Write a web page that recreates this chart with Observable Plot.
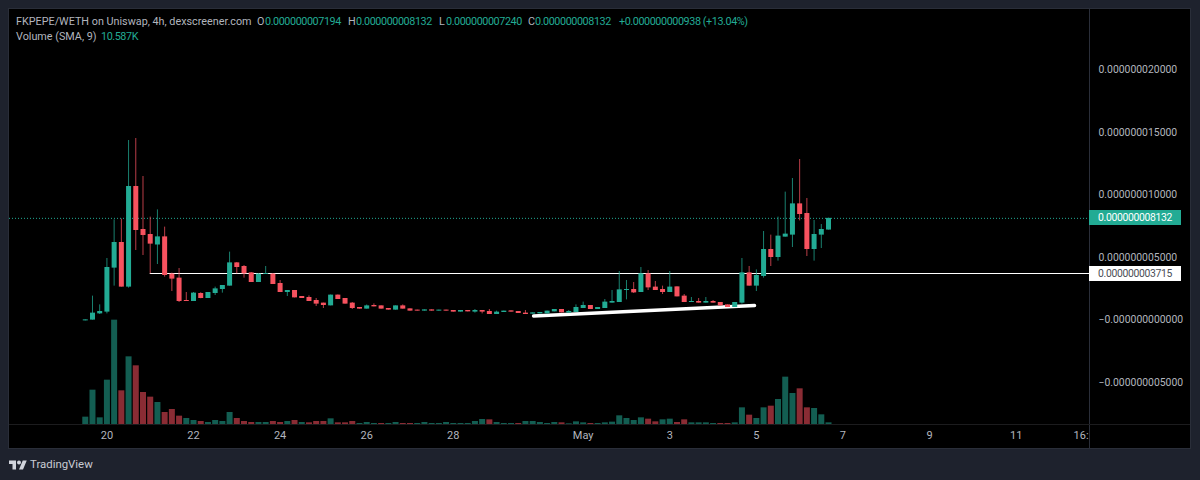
<!DOCTYPE html>
<html>
<head>
<meta charset="utf-8">
<script src="https://cdn.jsdelivr.net/npm/d3@7"></script>
<script src="https://cdn.jsdelivr.net/npm/@observablehq/plot@0.6"></script>
<style>
html,body{margin:0;padding:0;background:#1e222d;}
#page{position:relative;width:1200px;height:480px;overflow:hidden;background:#1e222d;font-family:Roboto,"Noto Sans",sans-serif;}
#panel{position:absolute;left:9px;top:9px;width:1181px;height:439px;background:#000;box-shadow:0 0 0 1px #2a2e39;}
#chart{position:absolute;left:0;top:0;}
#chart svg{background:transparent;display:block;}
.sep{position:absolute;background:#2a2e39;}
.t{position:absolute;white-space:nowrap;font-size:10.8px;line-height:14px;color:#b2b5be;}
.v{color:#22ab94;letter-spacing:-0.42px;}
.tag{position:absolute;left:1089px;width:92px;height:15px;line-height:15px;text-align:center;font-size:10.4px;letter-spacing:-0.35px;}
#brand{position:absolute;left:30px;top:457px;font-size:11.4px;line-height:15px;color:#c8cbd3;}
#logo{position:absolute;left:9px;top:458px;}
</style>
</head>
<body>
<div id="page">
  <div id="panel"></div>
  <div id="chart"></div>
  <div class="sep" style="left:1089px;top:9px;width:1px;height:439px"></div>
  <div class="sep" id="hline" style="left:9px;width:1181px;height:1px;background:#1c1c1e"></div>
  <div class="t" style="left:16px;top:15px">FKPEPE/WETH on Uniswap, 4h, dexscreener.com</div>
  <div class="t" style="left:257px;top:15px">O</div><div class="t v" style="left:265px;top:15px">0.000000007194</div>
  <div class="t" style="left:348px;top:15px">H</div><div class="t v" style="left:356px;top:15px">0.000000008132</div>
  <div class="t" style="left:439px;top:15px">L</div><div class="t v" style="left:446px;top:15px">0.000000007240</div>
  <div class="t" style="left:528px;top:15px">C</div><div class="t v" style="left:535px;top:15px">0.000000008132</div>
  <div class="t v" style="left:619px;top:15px">+0.000000000938 (+13.04%)</div>
  <div class="t" style="left:16px;top:30px">Volume (SMA, 9)</div><div class="t v" style="left:101px;top:30px">10.587K</div>
  <div class="tag" id="lastTag" style="background:#22ab94;color:#fff">0.000000008132</div>
  <div class="tag" id="lineTag" style="background:#fff;color:#4a4d55">0.000000003715</div>
  <svg id="logo" width="18" height="14" viewBox="0 3 36 20"><path fill="#d1d4dc" d="M14 22H7V11H0V4h14v18zM28 22h-8l7.5-18h8L28 22z"/><circle fill="#d1d4dc" cx="20" cy="8" r="4"/></svg>
  <div id="brand">TradingView</div>
</div>
<script>
// Prices are in units of 1e-9; volumes in thousands.
const opens = [-0.07,-0.01,.49,.63,4.15,6.2,2.63,10.68,7.24,6.84,6.0,6.65,3.67,3.35,1.56,1.48,2.12,1.72,2.12,2.44,2.71,4.57,4.28,3.77,3.0,3.65,3.67,2.92,2.2,2.36,1.88,1.8,1.56,1.35,1.13,1.99,1.72,1.35,1.0,.87,1.16,1.13,.92,.79,1.13,.89,.79,.71,.81,.71,.79,.76,.63,.76,.63,.76,.68,.44,.6,.73,.68,.55,.47,.49,.49,.65,.84,.55,.6,.92,1.16,.84,.92,1.35,1.4,2.36,2.44,2.2,3.69,2.63,2.44,2.2,2.65,1.91,1.4,1.48,1.35,1.48,1.4,1.21,1.0,1.35,3.77,2.71,3.48,5.64,5.0,6.63,6.79,9.29,8.52,5.64,6.79,7.194];
const closes = [.01,.55,.68,4.2,6.2,2.63,10.68,7.16,6.76,6.07,6.65,3.56,3.27,1.48,1.48,2.15,1.72,2.2,2.49,2.76,4.57,4.2,3.69,3.0,3.67,3.72,2.84,2.2,2.36,1.77,1.72,1.48,1.27,1.16,1.99,1.64,1.27,.92,.87,1.13,1.05,.87,.79,1.13,.87,.71,.71,.81,.71,.79,.71,.63,.76,.65,.76,.63,.44,.63,.71,.63,.52,.44,.57,.6,.71,.84,.57,.68,1.0,1.16,.84,1.0,1.43,1.48,2.41,2.44,2.17,3.69,2.57,2.36,2.2,2.63,1.85,1.4,1.48,1.35,1.48,1.35,1.13,1.0,1.4,3.77,2.71,3.56,5.64,5.0,6.71,6.87,9.29,8.44,5.64,6.84,7.24,8.132];
const highs = [.01,1.91,1.21,4.92,8.01,8.07,14.36,14.52,11.48,8.23,8.81,7.43,3.75,4.12,2.2,2.2,2.18,2.2,2.63,2.76,5.43,4.6,4.36,3.8,3.7,4.28,3.72,3.16,2.36,2.36,1.88,1.93,1.72,1.35,2.0,2.0,1.72,1.4,1.0,1.2,1.29,1.13,.92,1.13,1.21,.89,.79,.81,.81,.79,.79,.76,.76,.76,.84,.76,.84,.71,.71,.73,.68,.76,.57,.6,.71,.84,.84,.76,1.21,1.43,1.16,1.0,1.64,2.36,3.88,3.16,3.0,4.2,3.96,3.08,2.71,3.88,2.65,2.04,1.8,1.72,1.8,1.56,1.4,1.21,1.4,4.92,4.28,4.01,7.08,6.79,8.23,10.23,11.32,12.84,9.72,7.96,7.64,8.132];
const lows = [-0.07,-0.01,.44,.49,2.71,2.63,2.55,5.56,5.16,3.69,4.44,3.43,2.28,1.40,1.48,1.48,1.7,1.72,1.96,2.15,2.71,3.69,3.35,3.0,3.0,3.65,2.84,2.2,1.88,1.77,1.72,1.48,1.08,.92,1.13,1.64,1.27,.84,.87,.87,1.05,.87,.79,.79,.87,.71,.71,.71,.71,.71,.71,.63,.63,.65,.55,.49,.44,.44,.6,.63,.52,.44,.47,.49,.49,.65,.57,.55,.6,.92,.84,.84,.92,1.35,1.4,1.61,2.12,2.2,2.36,2.36,2.04,2.2,1.85,1.4,1.4,1.35,1.35,1.35,1.13,1.0,1.0,1.27,2.71,2.28,3.35,4.28,4.71,6.63,5.8,7.93,5.08,4.71,5.72,7.194];
const volumes = [3.48,16.27,3.16,21.01,49.45,15.96,32.07,27.81,15.17,12.96,10.43,5.69,7.11,3.95,2.84,1.90,1.42,.95,1.90,1.42,5.69,2.84,1.42,.95,.95,.95,1.42,.95,1.42,1.90,.95,.79,1.42,1.42,2.69,.79,.79,1.42,.47,.95,.47,.47,.47,.95,.47,.47,.47,.95,.47,.47,.95,.47,.47,.47,1.42,2.37,2.21,.95,.47,.47,.47,1.42,1.42,.95,.47,.95,.79,.32,1.26,.79,.47,.47,.79,1.11,4.11,2.84,1.90,3.16,2.53,1.26,2.21,2.53,.95,2.21,.79,.79,.79,.47,.47,.47,.79,7.90,4.42,2.84,7.90,8.69,11.85,22.44,14.69,16.91,7.90,7.58,4.58,.79];
const volumeDirs = [1,1,1,1,1,0,1,0,0,0,1,0,0,0,1,1,0,1,1,1,1,0,0,0,1,1,0,0,1,0,1,0,0,0,1,0,0,0,1,1,1,0,1,1,0,0,1,1,1,1,1,1,1,1,1,1,0,1,1,1,0,1,1,1,1,1,0,1,1,1,0,1,1,1,1,1,1,1,0,0,1,1,0,0,1,1,1,1,0,0,1,1,0,1,1,0,1,1,1,0,0,1,1,1];
const axisPrices = [20,15,10,5,0,-5];
const tickDates = ["2024-04-20","2024-04-22","2024-04-24","2024-04-26","2024-04-28","2024-05-01","2024-05-03","2024-05-05","2024-05-07","2024-05-09","2024-05-11","2024-05-12T12:00Z"].map(d=>new Date(d));
const tickLabels = ["20","22","24","26","28","May","3","5","7","9","11","16:"];
const firstCandle = new Date("2024-04-19T12:00Z");
const lastPrice = 8.132, linePrice = 3.715;
const lineStart = new Date("2024-04-21T00:00Z");
const trendDates = [new Date("2024-04-29T20:30Z"), new Date("2024-05-04T23:00Z")];
const trendPrices = [0.32, 1.16];

const UP = "#22ab94", DOWN = "#f7525f", UPV = "#135e52", DOWNV = "#8a2c34";
const FOUR_H = 4*3600*1000;
const xDomain = [new Date("2024-04-17T18:00Z"), new Date("2024-05-12T16:40Z")];
const yDomain = [-8.36, 24.84];
const volBase = yDomain[0], volToPrice = 0.1688;

const candles = opens.map((o,i)=>({
  t:new Date(+firstCandle + i*FOUR_H), o, c:closes[i], h:highs[i], l:lows[i],
  v:volumes[i], up:closes[i]>=o, vup:volumeDirs[i]===1
}));
const fmt = d => (d<=0?"\u2212":"")+(Math.abs(d)*1e-9).toFixed(12);

const plot = Plot.plot({
  width:1200, height:480,
  marginLeft:9, marginRight:111, marginTop:9, marginBottom:56,
  style:{background:"transparent",fontFamily:"Roboto, 'Noto Sans', sans-serif",fontSize:"10.4px"},
  x:{type:"utc",domain:xDomain,axis:null},
  y:{domain:yDomain,axis:null},
  marks:[
    Plot.ruleY([lastPrice],{stroke:UP,strokeDasharray:"1,2",strokeWidth:1}),
    Plot.ruleY([linePrice],{x1:lineStart,x2:xDomain[1],stroke:"#fff",strokeWidth:1.1}),
    Plot.line(trendDates.map((d,i)=>({d,p:trendPrices[i]})),{x:"d",y:"p",stroke:"#fff",strokeWidth:3.4}),
    Plot.ruleX(candles,{x:"t",y1:volBase,y2:d=>volBase+d.v*volToPrice,stroke:d=>d.vup?UPV:DOWNV,strokeWidth:6}),
    Plot.ruleX(candles,{x:"t",y1:"l",y2:"h",stroke:d=>d.up?UP:DOWN,strokeWidth:1,strokeOpacity:0.75}),
    Plot.ruleX(candles,{x:"t",y1:"o",y2:"c",stroke:d=>d.up?UP:DOWN,strokeWidth:5}),
    Plot.axisY({anchor:"right",ticks:axisPrices,tickFormat:fmt,tickSize:0,tickPadding:9,textAnchor:"start",color:"#b2b5be",label:null,style:{letterSpacing:"-0.35px"}}),
    Plot.axisX({anchor:"bottom",ticks:tickDates,tickFormat:d=>tickLabels[tickDates.findIndex(t=>+t===+d)],tickSize:0,tickPadding:7,color:"#b2b5be",label:null,fontSize:11})
  ]
});
document.getElementById("chart").appendChild(plot);
const yS = plot.scale("y");
document.getElementById("lastTag").style.top = (yS.apply(lastPrice)-7.5)+"px";
document.getElementById("lineTag").style.top = (yS.apply(linePrice)-7.5)+"px";
document.getElementById("hline").style.top = yS.apply(volBase)+"px";
</script>
</body>
</html>
